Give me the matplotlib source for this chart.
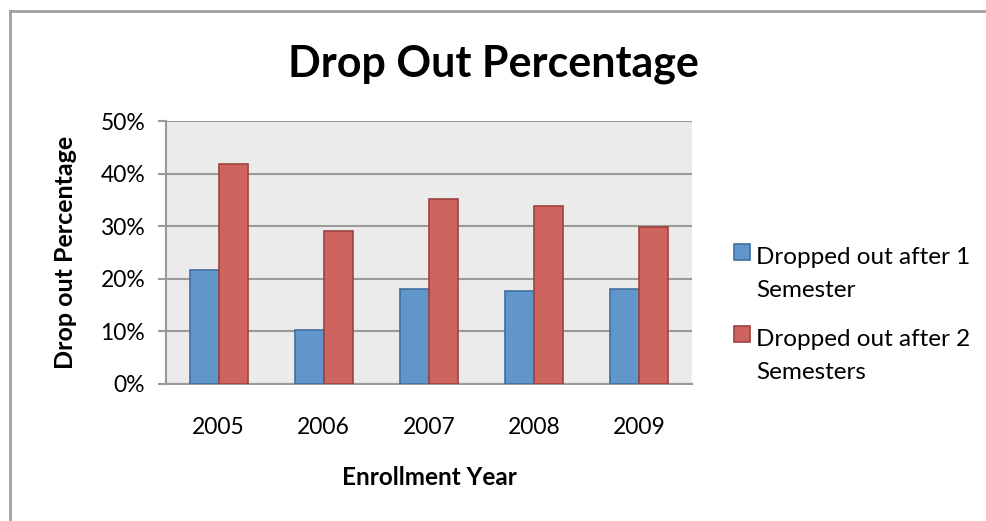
import matplotlib

matplotlib.use("Agg")
import matplotlib.pyplot as plt
import numpy as np
from matplotlib.lines import Line2D
from matplotlib.patches import Rectangle
from matplotlib.ticker import PercentFormatter

plt.rcParams["font.family"] = ["Lato", "DejaVu Sans"]

years = ["2005", "2006", "2007", "2008", "2009"]
after_1_semester = [21.6, 10.2, 18.1, 17.6, 18.1]
after_2_semesters = [41.9, 29.1, 35.2, 33.8, 29.9]
series_labels = ["Dropped out after 1\nSemester", "Dropped out after 2\nSemesters"]

BLUE = "#6096c9"
BLUE_EDGE = "#3f6f9f"
RED = "#cd6460"
RED_EDGE = "#9e423f"
GRID = "#9a9a9a"

W, H = 986, 521
fig = plt.figure(figsize=(W / 100, H / 100), dpi=100)

# chart frame: only the top and left edges fall inside the picture
fig.add_artist(Line2D([10 / W, 10 / W], [0, 1 - 11 / H], transform=fig.transFigure,
                      color="#a0a0a0", linewidth=2))
fig.add_artist(Line2D([10 / W, 1], [1 - 11 / H, 1 - 11 / H], transform=fig.transFigure,
                      color="#a0a0a0", linewidth=2))

ax = fig.add_axes([166 / W, 1 - 384 / H, 526 / W, 263 / H])
ax.set_facecolor("#ebebeb")

x = np.arange(len(years))
w = 0.275
ax.bar(x - w / 2, after_1_semester, width=w, color=BLUE, edgecolor=BLUE_EDGE, linewidth=1.2, zorder=3)
ax.bar(x + w / 2, after_2_semesters, width=w, color=RED, edgecolor=RED_EDGE, linewidth=1.2, zorder=3)

ax.set_xlim(-0.5, len(years) - 0.5)
ax.set_ylim(0, 50)
ax.set_yticks(np.arange(0, 51, 10))
ax.yaxis.set_major_formatter(PercentFormatter(decimals=0))
ax.set_xticks(x)
ax.set_xticklabels(years)
ax.yaxis.grid(True, color=GRID, linewidth=1.5, zorder=0)
ax.set_axisbelow(True)

for side in ["top", "right"]:
    ax.spines[side].set_visible(False)
for side in ["left", "bottom"]:
    ax.spines[side].set_color(GRID)
    ax.spines[side].set_linewidth(1.5)
ax.tick_params(axis="y", length=6, color=GRID, width=1.5, labelsize=16.5, pad=9)
ax.tick_params(axis="x", length=0, labelsize=16.5, pad=24)

ax.set_xlabel("Enrollment Year", fontsize=17.5, fontweight="bold", labelpad=20)
ax.set_ylabel("Drop out Percentage", fontsize=18, fontweight="bold", labelpad=17)
fig.text(0.5, 1 - 77 / H, "Drop Out Percentage", ha="center", va="baseline",
         fontsize=31, fontweight="bold")

# legend drawn by hand so the swatch lines up with the first text line
legend_colors = [(BLUE, BLUE_EDGE), (RED, RED_EDGE)]
for i, (label, (face, edge)) in enumerate(zip(series_labels, legend_colors)):
    top = 244 + i * 82
    fig.patches.append(Rectangle((734 / W, 1 - (top + 16) / H), 16 / W, 16 / H,
                                 transform=fig.transFigure, facecolor=face, edgecolor=edge,
                                 linewidth=1.2))
    for j, line in enumerate(label.split("\n")):
        fig.text(756 / W, 1 - (top + 20 + j * 33) / H, line, ha="left", va="baseline",
                 fontsize=17.5)

fig.savefig("out.png", dpi=100)
plt.close(fig)
